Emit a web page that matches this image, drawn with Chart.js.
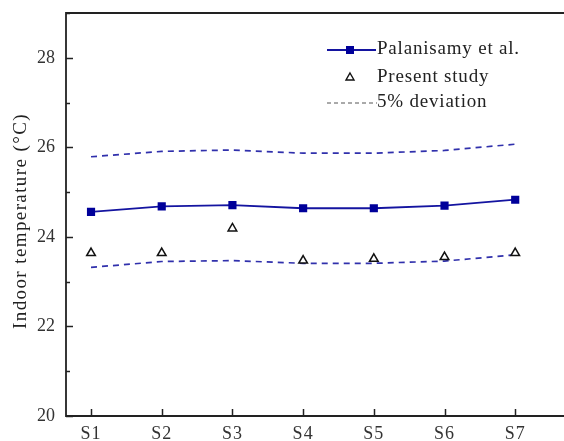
<!DOCTYPE html>
<html>
<head>
<meta charset="utf-8">
<script src="https://cdn.jsdelivr.net/npm/chart.js@4/dist/chart.umd.min.js"></script>
<style>
  html, body { margin: 0; padding: 0; background: #fff; overflow: hidden; }
  canvas { display: block; }
</style>
</head>
<body>
<canvas id="tempChart" width="564" height="441"></canvas>
<script>
// ---- data ----
const cases = ["S1", "S2", "S3", "S4", "S5", "S6", "S7"];
const palanisamy = [24.56, 24.68, 24.71, 24.64, 24.64, 24.70, 24.83];
const presentStudy = [23.64, 23.64, 24.19, 23.47, 23.51, 23.55, 23.64];
const devUpper = [25.79, 25.91, 25.94, 25.87, 25.87, 25.93, 26.07];
const devLower = [23.32, 23.45, 23.47, 23.41, 23.41, 23.46, 23.60];
const yTicks = [20, 22, 24, 26, 28];

const SERIF = '"Liberation Serif", "DejaVu Serif", serif';
const BLUE = "#1414a0";
const DASH_BLUE = "#3030ac";
const INK = "#222";

const pts = arr => arr.map((v, i) => ({ x: i + 1, y: v }));

// ---- frame, inside ticks, tick labels, axis title and legend ----
const decor = {
  id: "decor",
  afterDraw(chart) {
    const ctx = chart.ctx;
    const a = chart.chartArea;
    const xs = chart.scales.x, ys = chart.scales.y;
    ctx.save();
    ctx.strokeStyle = INK;
    ctx.lineWidth = 1.8;

    // left, bottom and top frame lines
    ctx.beginPath();
    ctx.moveTo(a.right, a.top);
    ctx.lineTo(a.left, a.top);
    ctx.lineTo(a.left, a.bottom);
    ctx.lineTo(a.right, a.bottom);
    ctx.stroke();

    ctx.lineWidth = 1.5;
    // y ticks pointing inward, long on even values
    for (let v = 20; v <= 29; v++) {
      const y = Math.round(ys.getPixelForValue(v)) + 0.5;
      const len = v % 2 === 0 ? 7 : 4;
      ctx.beginPath();
      ctx.moveTo(a.left, y);
      ctx.lineTo(a.left + len, y);
      ctx.stroke();
    }
    // x ticks pointing inward
    cases.forEach((_, i) => {
      const x = Math.round(xs.getPixelForValue(i + 1)) + 0.5;
      ctx.beginPath();
      ctx.moveTo(x, a.bottom);
      ctx.lineTo(x, a.bottom - 7);
      ctx.stroke();
    });

    // tick labels
    ctx.fillStyle = "#333";
    ctx.font = "18px " + SERIF;
    ctx.textBaseline = "middle";
    ctx.textAlign = "right";
    yTicks.forEach(v => ctx.fillText(String(v), a.left - 11, ys.getPixelForValue(v)));
    ctx.textAlign = "center";
    ctx.letterSpacing = "1px";
    cases.forEach((c, i) => ctx.fillText(c, xs.getPixelForValue(i + 1), a.bottom + 18));

    // y axis title
    ctx.fillStyle = INK;
    ctx.font = "19px " + SERIF;
    ctx.letterSpacing = "1.4px";
    ctx.translate(21, 221);
    ctx.rotate(-Math.PI / 2);
    ctx.fillText("Indoor temperature (\u00B0C)", 0, 0);
    ctx.restore();

    // legend
    ctx.save();
    ctx.font = "19px " + SERIF;
    ctx.letterSpacing = "0.8px";
    ctx.textAlign = "left";
    ctx.textBaseline = "middle";
    const lx0 = 327, lx1 = 376, tx = 377;

    ctx.strokeStyle = BLUE;
    ctx.lineWidth = 1.8;
    ctx.beginPath();
    ctx.moveTo(lx0, 50);
    ctx.lineTo(lx1, 50);
    ctx.stroke();
    ctx.fillStyle = "#00009a";
    ctx.fillRect(346, 46, 8, 8);
    ctx.fillStyle = INK;
    ctx.fillText("Palanisamy et al.", tx, 49);

    ctx.strokeStyle = "#111";
    ctx.lineWidth = 1.4;
    ctx.beginPath();
    ctx.moveTo(350, 73);
    ctx.lineTo(354, 80);
    ctx.lineTo(346, 80);
    ctx.closePath();
    ctx.fillStyle = "#fff";
    ctx.fill();
    ctx.stroke();
    ctx.fillStyle = INK;
    ctx.fillText("Present study", tx, 77);

    ctx.strokeStyle = "#555";
    ctx.lineWidth = 1;
    ctx.setLineDash([4, 3]);
    ctx.beginPath();
    ctx.moveTo(lx0, 103);
    ctx.lineTo(tx, 103);
    ctx.stroke();
    ctx.setLineDash([]);
    ctx.fillText("5% deviation", tx, 102);
    ctx.restore();
  }
};

new Chart(document.getElementById("tempChart"), {
  type: "line",
  data: {
    datasets: [
      {
        label: "Present study",
        data: pts(presentStudy),
        showLine: false,
        pointStyle: "triangle",
        pointRadius: 5,
        pointBorderColor: "#111",
        pointBackgroundColor: "#fff",
        pointBorderWidth: 1.5,
        order: 0
      },
      {
        label: "Palanisamy et al.",
        data: pts(palanisamy),
        borderColor: BLUE,
        borderWidth: 1.8,
        pointStyle: "rect",
        pointRadius: 4.5,
        pointBackgroundColor: "#00009a",
        pointBorderColor: "#00009a",
        order: 1
      },
      {
        label: "5% deviation",
        data: pts(devUpper),
        borderColor: DASH_BLUE,
        borderWidth: 1.7,
        borderDash: [6, 5],
        pointRadius: 0,
        order: 2
      },
      {
        label: "5% deviation (lower)",
        data: pts(devLower),
        borderColor: DASH_BLUE,
        borderWidth: 1.7,
        borderDash: [6, 5],
        pointRadius: 0,
        order: 2
      }
    ]
  },
  options: {
    responsive: false,
    animation: false,
    layout: { autoPadding: false, padding: { top: 13, right: 0, left: 66, bottom: 25 } },
    plugins: {
      legend: { display: false },
      tooltip: { enabled: false }
    },
    scales: {
      x: { type: "linear", min: 0.646, max: 7.69, display: false },
      y: { min: 20, max: 29, display: false }
    }
  },
  plugins: [decor]
});
</script>
</body>
</html>
